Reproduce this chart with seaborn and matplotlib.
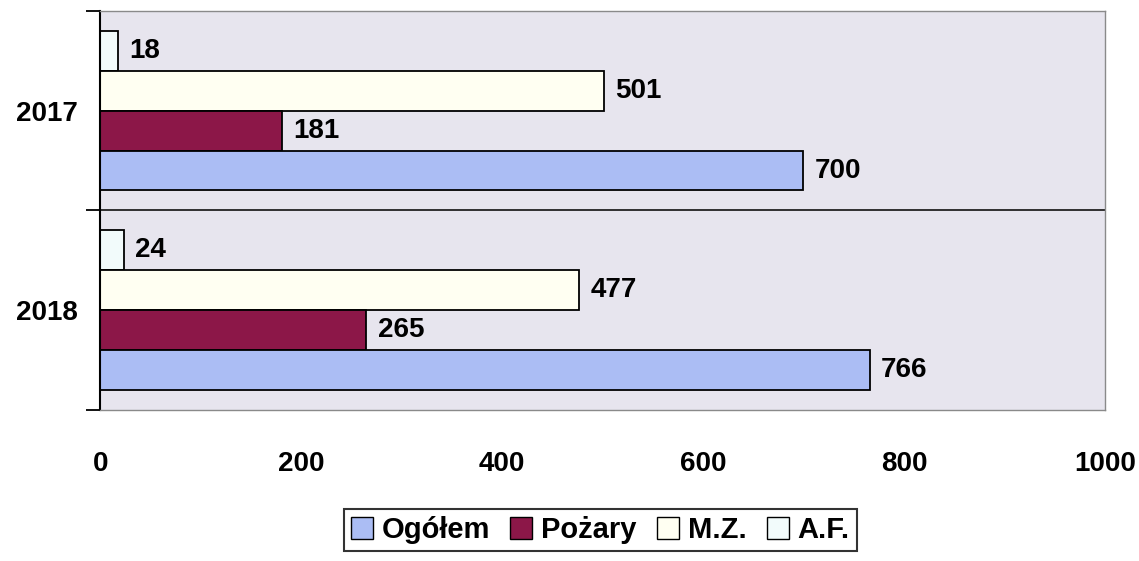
import numpy as np
import pandas as pd
import matplotlib
matplotlib.use("Agg")
import matplotlib.pyplot as plt
import seaborn as sns
from matplotlib.patches import Patch

years = ["2017", "2018"]
series = ["Ogółem", "Pożary", "M.Z.", "A.F."]
ogolem = [700, 766]
pozary = [181, 265]
mz = [501, 477]
af = [18, 24]

colors = {"Ogółem": "#abbdf4", "Pożary": "#8c1748", "M.Z.": "#fffff2", "A.F.": "#f2fbfb"}

df = pd.DataFrame({
    "rok": years * 4,
    "seria": [s for s in series for _ in years],
    "wartosc": ogolem + pozary + mz + af,
})

sns.set_style("white")
plt.rcParams["font.family"] = ["Liberation Sans", "DejaVu Sans"]
plt.rcParams["font.weight"] = "bold"
plt.rcParams["text.color"] = "black"
plt.rcParams["xtick.color"] = "black"
plt.rcParams["ytick.color"] = "black"

fig = plt.figure(figsize=(11.39, 5.61), dpi=100)
ax = fig.add_axes([0.088, 0.27, 0.882, 0.71])
ax.set_facecolor("#e7e5ee")

hue_order = ["A.F.", "M.Z.", "Pożary", "Ogółem"]
sns.barplot(data=df, y="rok", x="wartosc", hue="seria", hue_order=hue_order,
            order=years, orient="h", palette=colors, width=0.8, saturation=1,
            edgecolor="black", linewidth=1.3, ax=ax, legend=False)

for cont in ax.containers:
    ax.bar_label(cont, fmt="%d", padding=8, fontsize=20, fontweight="bold", color="black")

ax.set_xlim(0, 1000)
ax.set_ylim(1.5, -0.5)
ax.set_xticks([0, 200, 400, 600, 800, 1000])
ax.set_xticklabels(["0", "200", "400", "600", "800", "1000"], fontsize=20, fontweight="bold")
ax.tick_params(axis="x", length=0, pad=30)
ax.set_yticks([0, 1])
ax.set_yticklabels(years, fontsize=20, fontweight="bold")
ax.set_yticks([-0.5, 0.5, 1.5], minor=True)
ax.tick_params(axis="y", which="major", left=False, length=0, pad=16)
ax.tick_params(axis="y", which="minor", left=True, length=10, width=1.3, direction="out", color="black")
ax.axhline(0.5, color="#222222", lw=1.3, zorder=0)

ax.set_xlabel("")
ax.set_ylabel("")
for side in ["top", "right", "bottom"]:
    ax.spines[side].set_color("#8a8a8a")
    ax.spines[side].set_linewidth(1)
ax.spines["left"].set_color("black")
ax.spines["left"].set_linewidth(1.5)

handles = [Patch(facecolor=colors[s], edgecolor="black", linewidth=1) for s in series]
leg = fig.legend(handles, series, loc="center", bbox_to_anchor=(0.527, 0.055),
                 ncol=4, frameon=True, fancybox=False, edgecolor="black",
                 prop={"size": 21, "weight": "bold"}, handlelength=0.75,
                 handleheight=0.75, handletextpad=0.3, columnspacing=0.7,
                 borderpad=0.25)
leg.get_frame().set_linewidth(1.5)

fig.savefig("out.png", dpi=100)
